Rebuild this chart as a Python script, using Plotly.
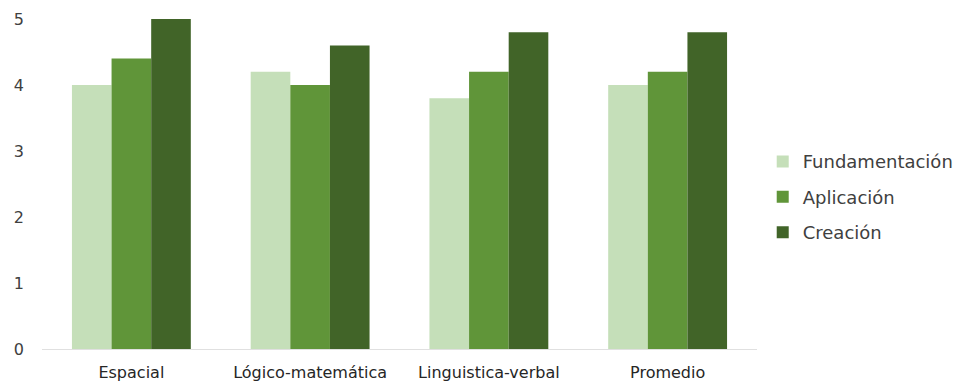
import plotly.graph_objects as go

categories = ["Espacial", "Lógico-matemática", "Linguistica-verbal", "Promedio"]
series_names = ["Fundamentación", "Aplicación", "Creación"]
fundamentacion = [4.0, 4.2, 3.8, 4.0]
aplicacion = [4.4, 4.0, 4.2, 4.2]
creacion = [5.0, 4.6, 4.8, 4.8]
y_ticks = [0, 1, 2, 3, 4, 5]
colors = ["#c5dfb9", "#609539", "#416428"]

values = [fundamentacion, aplicacion, creacion]

fig = go.Figure()
for i, (name, vals) in enumerate(zip(series_names, values)):
    fig.add_trace(go.Bar(
        x=categories, y=vals, name=name,
        marker=dict(color=colors[i], line=dict(width=0)),
        legendgroup=f"g{i}",
    ))

fig.update_layout(
    barmode="group",
    bargap=0.335,
    bargroupgap=0,
    width=956, height=382,
    margin=dict(l=42, r=199, t=19, b=33, autoexpand=False),
    paper_bgcolor="white",
    plot_bgcolor="white",
    font=dict(family="DejaVu Sans, sans-serif", size=16, color="#404040"),
    legend=dict(
        x=1.008, xanchor="left", y=0.46, yanchor="middle",
        font=dict(size=18, color="#404040"),
        tracegroupgap=9,
        itemwidth=30,
    ),
    xaxis=dict(
        showgrid=False, showline=True, linecolor="#e0e0e0", linewidth=1,
        ticks="", tickfont=dict(size=16, color="#262626"),
        ticklabelstandoff=9, automargin=False,
    ),
    yaxis=dict(
        range=[0, 5], tickvals=y_ticks, showgrid=False, zeroline=False,
        showline=False, ticks="", ticklabelstandoff=17, automargin=False,
        tickfont=dict(size=16, color="#404040"),
    ),
)

fig.write_html("out.html")
